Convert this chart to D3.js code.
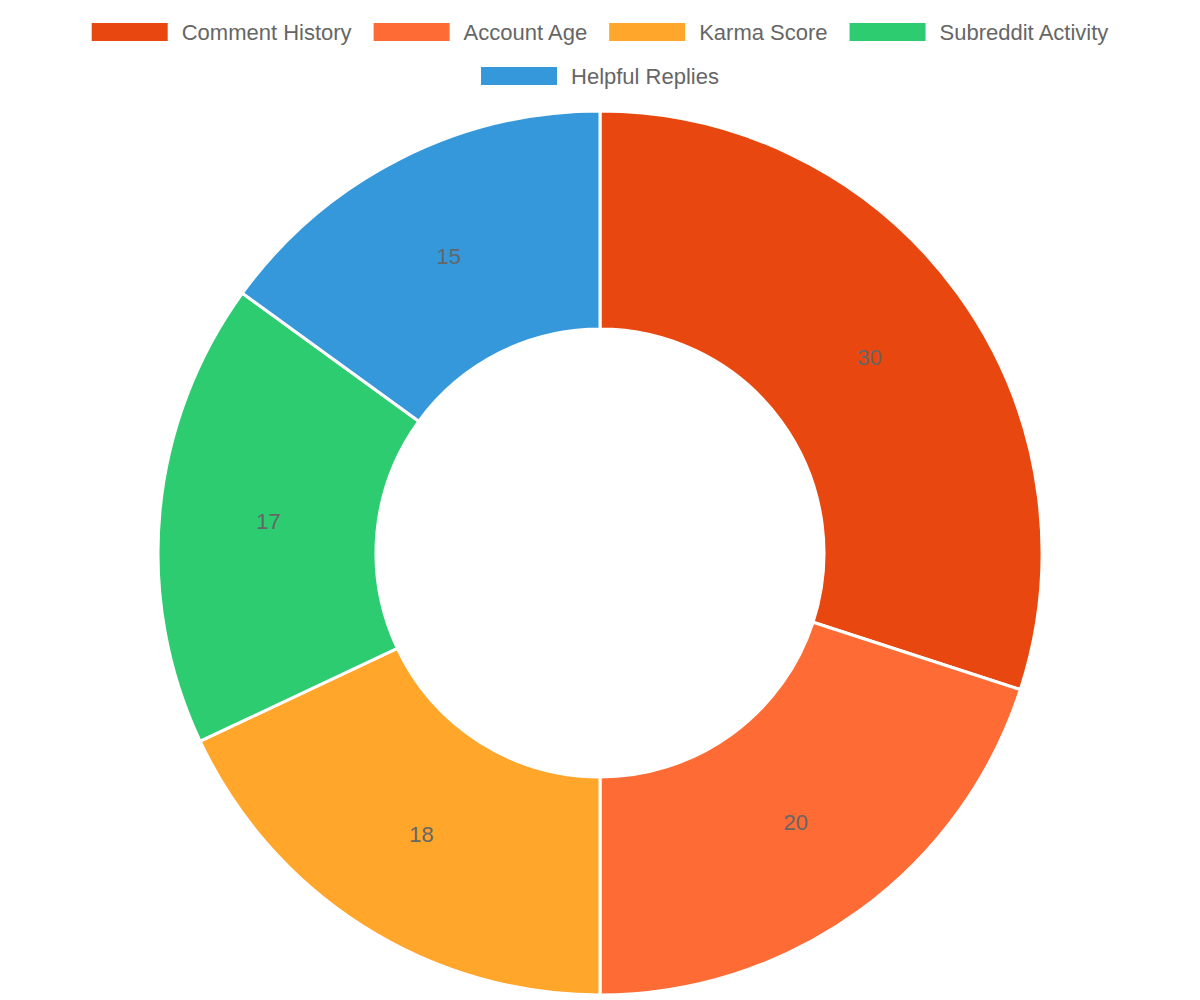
<!DOCTYPE html>
<html>
<head>
<meta charset="utf-8">
<script src="https://cdn.jsdelivr.net/npm/d3@7"></script>
<style>
  body { margin: 0; background: #fff; }
  text { font-family: "Liberation Sans", Arial, sans-serif; }
</style>
</head>
<body>
<svg id="chart" width="1200" height="1000"></svg>
<script>
// data
const labels = ["Comment History", "Account Age", "Karma Score", "Subreddit Activity", "Helpful Replies"];
const values = [30, 20, 18, 17, 15];
const colors = ["#E8470F", "#FF6B35", "#FFA62B", "#2ECC71", "#3498DB"];

const svg = d3.select("#chart");
const W = 1200;
const fontSize = 22;

// legend, wrapped into centred rows
const legend = svg.append("g");
const boxW = 76, boxH = 18, gap = 14, pad = 22;
let items = labels.map((l, i) => {
    let g = legend.append("g");
    g.append("rect").attr("width", boxW).attr("height", boxH).attr("y", -boxH / 2).attr("fill", colors[i]);
    let t = g.append("text").attr("x", boxW + gap).attr("dy", "0.35em")
        .attr("font-size", fontSize).attr("fill", "#666").text(l);
    return { g: g, w: boxW + gap + t.node().getComputedTextLength() };
});
let rows = [[]], rowW = [0];
items.forEach(it => {
    let r = rows.length - 1;
    let add = (rows[r].length ? pad : 0) + it.w;
    if (rowW[r] + add > W - 40) { rows.push([it]); rowW.push(it.w); }
    else { rows[r].push(it); rowW[r] += add; }
});
rows.forEach((row, ri) => {
    let x = (W - rowW[ri]) / 2;
    row.forEach(it => {
        it.g.attr("transform", "translate(" + x + "," + (32 + ri * 44) + ")");
        x += it.w + pad;
    });
});

// doughnut
const cx = 600, cy = 553, outerR = 442, innerR = 224;
const pie = d3.pie().sort(null).value(d => d);
const arc = d3.arc().innerRadius(innerR).outerRadius(outerR);
const labelArc = d3.arc().innerRadius((innerR + outerR) / 2).outerRadius((innerR + outerR) / 2);

const g = svg.append("g").attr("transform", "translate(" + cx + "," + cy + ")");
const arcs = pie(values);
g.selectAll("path").data(arcs).enter().append("path")
    .attr("d", arc)
    .attr("fill", (d, i) => colors[i])
    .attr("stroke", "#fff")
    .attr("stroke-width", 3);

g.selectAll("text.val").data(arcs).enter().append("text")
    .attr("class", "val")
    .attr("transform", d => "translate(" + labelArc.centroid(d) + ")")
    .attr("text-anchor", "middle").attr("dy", "0.35em")
    .attr("font-size", fontSize).attr("fill", "#666")
    .text(d => d.data);
</script>
</body>
</html>
